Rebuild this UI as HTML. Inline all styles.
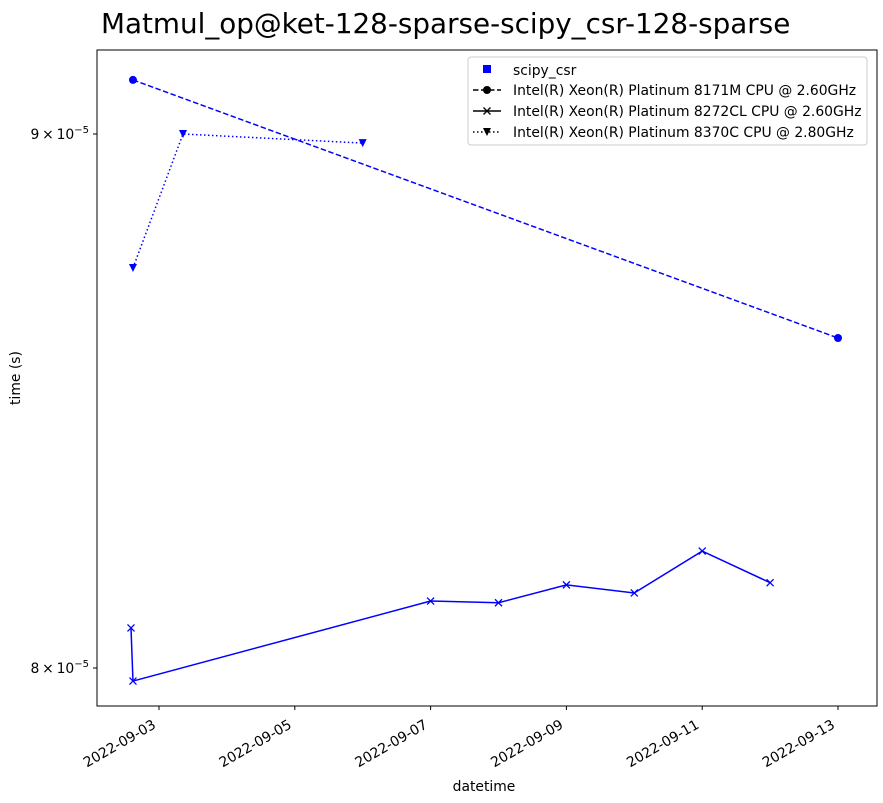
<!DOCTYPE html>
<html><head><meta charset="utf-8"><style>
body{margin:0;background:#fff;}
svg{display:block;font-family:"DejaVu Sans","Liberation Sans",sans-serif;}
</style></head><body>
<svg id="chart" width="883" height="803">
<text x="101" y="33" font-size="27.8">Matmul_op@ket-128-sparse-scipy_csr-128-sparse</text>
<rect x="97" y="50" width="780" height="656" fill="none" stroke="#000" stroke-width="1"/>
<g id="axes"></g>
<g id="series"></g>
<text x="484" y="791" font-size="13.9" text-anchor="middle">datetime</text>
<text transform="translate(20,378) rotate(-90)" font-size="13.9" text-anchor="middle">time (s)</text>
<g>
<rect x="468" y="57" width="399" height="88" fill="#fff" stroke="#ccc" rx="3"/>
<g><rect x="483" y="65" width="8" height="8" fill="#0000ff"/><text x="513" y="75" font-size="13.9">scipy_csr</text></g>
<g><line x1="473" y1="90" x2="501" y2="90" stroke="#000" stroke-width="1.5" stroke-dasharray="5.5,2.5"/><circle cx="487" cy="90" r="4" fill="#000"/><text x="513" y="95" font-size="13.9">Intel(R) Xeon(R) Platinum 8171M CPU @ 2.60GHz</text></g>
<g><line x1="473" y1="111" x2="501" y2="111" stroke="#000" stroke-width="1.5"/><path d="M483.5,107.5l7,7M490.5,107.5l-7,7" stroke="#000" stroke-width="1.3"/><text x="513" y="116" font-size="13.9">Intel(R) Xeon(R) Platinum 8272CL CPU @ 2.60GHz</text></g>
<g><line x1="473" y1="132" x2="501" y2="132" stroke="#000" stroke-width="1.5" stroke-dasharray="1.5,2.5"/><path d="M483,128h8l-4,8z" fill="#000"/><text x="513" y="137" font-size="13.9">Intel(R) Xeon(R) Platinum 8370C CPU @ 2.80GHz</text></g>
</g>
</svg>
<script>
const xTickLabels=["2022-09-03","2022-09-05","2022-09-07","2022-09-09","2022-09-11","2022-09-13"];
const yTickValues=[8e-5,9e-5];
const yTickLabels=["8","9"];
const dates8171=["2022-09-02T14:48","2022-09-13T00:00"];
const vals8171=[9.108e-5,8.604e-5];
const dates8272=["2022-09-02T14:06","2022-09-02T14:48","2022-09-07T00:00","2022-09-08T00:00","2022-09-09T00:00","2022-09-10T00:00","2022-09-11T00:00","2022-09-12T00:00"];
const vals8272=[8.071e-5,7.977e-5,8.119e-5,8.116e-5,8.148e-5,8.1335e-5,8.209e-5,8.152e-5];
const dates8370=["2022-09-02T14:48","2022-09-03T08:29","2022-09-06T00:00"];
const vals8370=[8.738e-5,9.0e-5,8.982e-5];

const NS="http://www.w3.org/2000/svg";
const t0=Date.parse("2022-09-03T00:00Z");
function xs(d){const t=Date.parse(d.length<=10?d+"T00:00Z":d+"Z");return 159+(t-t0)/86400000*67.9;}
function ys(v){return 668-Math.log(v/8e-5)/Math.log(9/8)*534;}
function mk(tag,attrs,parent){const e=document.createElementNS(NS,tag);for(const k in attrs)e.setAttribute(k,attrs[k]);parent.appendChild(e);return e;}
const axes=document.getElementById('axes'),series=document.getElementById('series');
xTickLabels.forEach(l=>{const x=xs(l);
 const t=mk('line',{x1:x,x2:x,y1:706,y2:710,stroke:'#000'},axes);
 
 
 const tx=mk('text',{transform:`translate(${x-7},${719}) rotate(-30)`,'font-size':13.9,'text-anchor':'end','dominant-baseline':'hanging'},axes);
 tx.textContent=l;
 
 
});
yTickValues.forEach((v,i)=>{const y=ys(v);
 const t=mk('line',{x1:93,x2:97,y1:y,y2:y,stroke:'#000'},axes);
 
 
 const tx=mk('text',{x:89,y:y+5,'font-size':13.9,'text-anchor':'end'},axes);
 tx.innerHTML=yTickLabels[i]+'\u2009\u00d7\u200910<tspan dy="-6" font-size="10">\u22125</tspan>';
 
 
});
function line(dates,vals,dash,name,marker){
 const pts=dates.map((d,i)=>[xs(d),ys(vals[i])]);
 const p=mk('polyline',{points:pts.map(p=>p.join(',')).join(' '),fill:'none',stroke:'#0000ff','stroke-width':1.5,'stroke-dasharray':dash},series);
 
 
 pts.forEach(([x,y])=>{let m;
  if(marker==='o')m=mk('circle',{cx:x,cy:y,r:4,fill:'#0000ff'},series);
  else if(marker==='x')m=mk('path',{d:`M${x-3.5},${y-3.5}l7,7M${x+3.5},${y-3.5}l-7,7`,stroke:'#0000ff','stroke-width':1.3},series);
  else m=mk('path',{d:`M${x-4},${y-4}h8l-4,8z`,fill:'#0000ff'},series);
  
  
 });
}
line(dates8171,vals8171,'5.5,2.5','series-8171m','o');
line(dates8272,vals8272,'none','series-8272cl','x');
line(dates8370,vals8370,'1.5,2.5','series-8370c','v');
</script>
</body></html>
